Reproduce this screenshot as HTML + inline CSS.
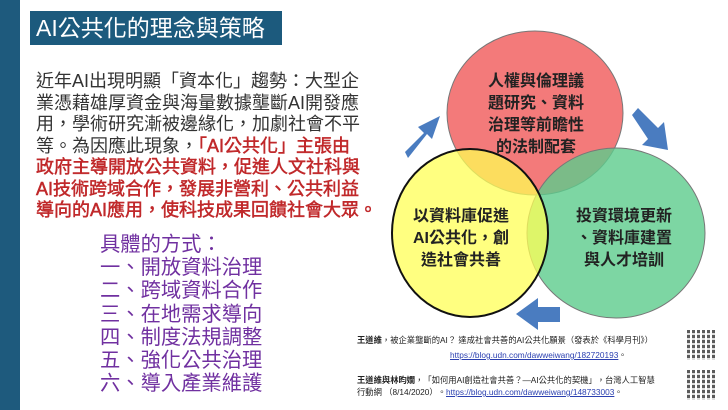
<!DOCTYPE html>
<html><head><meta charset="utf-8"><style>
body{margin:0;width:728px;height:410px;overflow:hidden;background:#fff;position:relative;font-family:"Liberation Sans","Noto Sans CJK TC",sans-serif}
.bar{position:absolute;left:0;top:0;width:20px;height:410px;background:#1e5a7d}
.title{position:absolute;left:30px;top:11px;width:252px;height:34px;background:#1c5a7d;color:#fff;font-size:23px;line-height:34px;padding-left:6px;box-sizing:border-box;white-space:nowrap}
.p{position:absolute;left:36px;top:71px;font-size:18px;line-height:21.5px;color:#333;white-space:nowrap}
.r{color:#c0282a;-webkit-text-stroke:0.5px #c0282a}
.list{position:absolute;left:100px;top:234px;font-size:20.3px;line-height:23.2px;color:#7030a0;white-space:nowrap}
.ref{position:absolute;font-family:"Liberation Sans","Noto Sans CJK TC",sans-serif;font-size:8.3px;color:#222;white-space:nowrap}
.ref a{color:#2a3fb0;text-decoration:underline}
.qr{position:absolute;width:30px;height:30px;background:
repeating-linear-gradient(0deg,rgba(255,255,255,.8) 0 2px,transparent 2px 5px),
repeating-linear-gradient(90deg,#333 0 3px,#fff 3px 5px);opacity:.8}
</style></head><body>
<div class="bar"></div>
<div class="title">AI公共化的理念與策略</div>
<div class="p">
<div>近年AI出現明顯「資本化」趨勢：大型企</div>
<div>業憑藉雄厚資金與海量數據壟斷AI開發應</div>
<div>用，學術研究漸被邊緣化，加劇社會不平</div>
<div>等。為因應此現象，<span class="r">「AI公共化」主張由</span></div>
<div class="r">政府主導開放公共資料，促進人文社科與</div>
<div class="r">AI技術跨域合作，發展非營利、公共利益</div>
<div class="r">導向的AI應用，使科技成果回饋社會大眾。</div>
</div>
<div class="list">
<div>具體的方式：</div>
<div>一、開放資料治理</div>
<div>二、跨域資料合作</div>
<div>三、在地需求導向</div>
<div>四、制度法規調整</div>
<div>五、強化公共治理</div>
<div>六、導入產業維護</div>
</div>
<svg style="position:absolute;left:0;top:0" width="728" height="410">
<ellipse cx="535" cy="113" rx="88" ry="82" fill="#f26b6b" fill-opacity="0.9" stroke="#777" stroke-width="1"/>
<ellipse cx="616" cy="233" rx="89" ry="85" fill="#5ccc8c" fill-opacity="0.8" stroke="#777" stroke-width="1"/>
<ellipse cx="470" cy="233" rx="78" ry="84" fill="#ffff55" fill-opacity="0.75" stroke="#111" stroke-width="2"/>
<g fill="#4a7cc0">
<polygon points="405,152 424,133 418,127 440,116 432,139 427,134 408,158" />
<polygon points="632,115 638,108 658,128 664,122 668,150 642,145 648,139"/>
<polygon points="560,307 560,322 538,322 538,330 516,314 538,298 538,307"/>
</g>
<g font-family="Liberation Sans,Noto Sans CJK TC,sans-serif" font-weight="bold" font-size="16" fill="#222" text-anchor="middle">
<text x="536" y="86">人權與倫理議</text>
<text x="536" y="108">題研究、資料</text>
<text x="536" y="130">治理等前瞻性</text>
<text x="536" y="152">的法制配套</text>
<text x="461" y="221">以資料庫促進</text>
<text x="461" y="243">AI公共化，創</text>
<text x="461" y="265">造社會共善</text>
<text x="624" y="221">投資環境更新</text>
<text x="624" y="243">、資料庫建置</text>
<text x="624" y="265">與人才培訓</text>
</g>
</svg>
<div class="ref" style="left:357px;top:334px"><b>王道維</b>，被企業壟斷的AI？ 達成社會共善的AI公共化願景（發表於《科學月刊》）</div>
<div class="ref" style="left:450px;top:349px"><a>https://blog.udn.com/dawweiwang/182720193</a>。</div>
<div class="ref" style="left:357px;top:374px"><b>王道維與林昀嫺</b>，「如何用AI創造社會共善？—AI公共化的契機」，台灣人工智慧</div>
<div class="ref" style="left:357px;top:386px">行動網 （8/14/2020）。<a>https://blog.udn.com/dawweiwang/148733003</a>。</div>
<div class="qr" style="left:687px;top:330px"></div>
<div class="qr" style="left:687px;top:370px"></div>
</body></html>
